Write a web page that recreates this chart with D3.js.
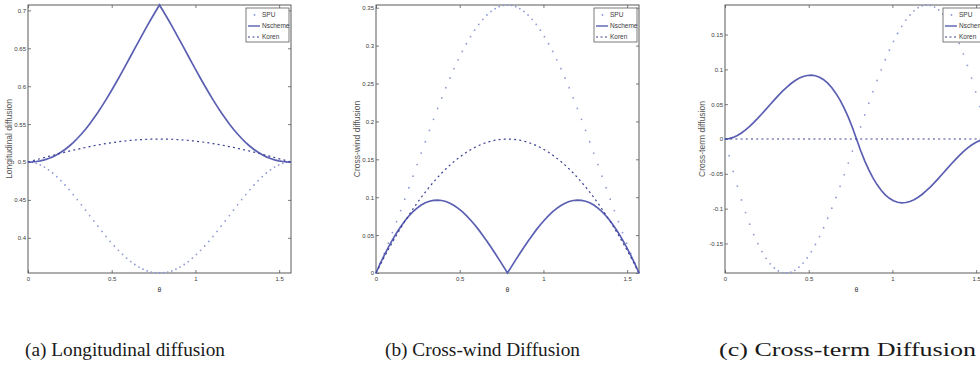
<!DOCTYPE html>
<html>
<head>
<meta charset="utf-8">
<script src="https://cdn.jsdelivr.net/npm/d3@7"></script>
<style>
  body { margin: 0; background: #fff; }
  svg { display: block; }
</style>
</head>
<body>
<svg id="fig" width="980" height="372"></svg>
<script>
// Flow angle samples (rad), 0 .. pi/2
const theta = [0, 0.0245, 0.0491, 0.0736, 0.0982, 0.1227, 0.1473, 0.1718, 0.1963, 0.2209,
  0.2454, 0.2700, 0.2945, 0.3191, 0.3436, 0.3682, 0.3927, 0.4172, 0.4418, 0.4663,
  0.4909, 0.5154, 0.5400, 0.5645, 0.5890, 0.6136, 0.6381, 0.6627, 0.6872, 0.7118,
  0.7363, 0.7609, 0.7854, 0.8099, 0.8345, 0.8590, 0.8836, 0.9081, 0.9327, 0.9572,
  0.9817, 1.0063, 1.0308, 1.0554, 1.0799, 1.1045, 1.1290, 1.1536, 1.1781, 1.2026,
  1.2272, 1.2517, 1.2763, 1.3008, 1.3254, 1.3499, 1.3744, 1.3990, 1.4235, 1.4481,
  1.4726, 1.4972, 1.5217, 1.5463, 1.5708];

// (a) longitudinal diffusion
const lonSPU = [0.5, 0.4996, 0.4983, 0.4961, 0.4933, 0.4897, 0.4855, 0.4807, 0.4754, 0.4697,
  0.4636, 0.4571, 0.4504, 0.4435, 0.4365, 0.4294, 0.4223, 0.4153, 0.4084, 0.4018,
  0.3953, 0.3892, 0.3835, 0.3781, 0.3732, 0.3687, 0.3648, 0.3614, 0.3586, 0.3564,
  0.3548, 0.3539, 0.3536, 0.3539, 0.3548, 0.3564, 0.3586, 0.3614, 0.3648, 0.3687,
  0.3732, 0.3781, 0.3835, 0.3892, 0.3953, 0.4018, 0.4084, 0.4153, 0.4223, 0.4294,
  0.4365, 0.4435, 0.4504, 0.4571, 0.4636, 0.4697, 0.4754, 0.4807, 0.4855, 0.4897,
  0.4933, 0.4961, 0.4983, 0.4996, 0.5];
const lonNscheme = [0.5, 0.5002, 0.5007, 0.5015, 0.5028, 0.5046, 0.5068, 0.5095, 0.5128, 0.5165,
  0.5208, 0.5257, 0.5310, 0.5369, 0.5433, 0.5502, 0.5576, 0.5654, 0.5737, 0.5823,
  0.5913, 0.6006, 0.6102, 0.6199, 0.6298, 0.6398, 0.6498, 0.6598, 0.6697, 0.6795,
  0.6890, 0.6982, 0.7071, 0.6982, 0.6890, 0.6795, 0.6697, 0.6598, 0.6498, 0.6398,
  0.6298, 0.6199, 0.6102, 0.6006, 0.5913, 0.5823, 0.5737, 0.5654, 0.5576, 0.5502,
  0.5433, 0.5369, 0.5310, 0.5257, 0.5208, 0.5165, 0.5128, 0.5095, 0.5068, 0.5046,
  0.5028, 0.5015, 0.5007, 0.5002, 0.5];
const lonKoren = [0.5, 0.5015, 0.5030, 0.5044, 0.5059, 0.5074, 0.5088, 0.5102, 0.5116, 0.5130,
  0.5143, 0.5156, 0.5168, 0.5180, 0.5192, 0.5203, 0.5214, 0.5225, 0.5234, 0.5243,
  0.5252, 0.5260, 0.5267, 0.5274, 0.5280, 0.5285, 0.5290, 0.5294, 0.5297, 0.5300,
  0.5302, 0.5303, 0.5303, 0.5303, 0.5302, 0.5300, 0.5297, 0.5294, 0.5290, 0.5285,
  0.5280, 0.5274, 0.5267, 0.5260, 0.5252, 0.5243, 0.5234, 0.5225, 0.5214, 0.5203,
  0.5192, 0.5180, 0.5168, 0.5156, 0.5143, 0.5130, 0.5116, 0.5102, 0.5088, 0.5074,
  0.5059, 0.5044, 0.5030, 0.5015, 0.5];

// (b) cross-wind diffusion
const cwSPU = [0, 0.0126, 0.0257, 0.0393, 0.0533, 0.0677, 0.0824, 0.0974, 0.1125, 0.1277,
  0.1430, 0.1582, 0.1732, 0.1881, 0.2028, 0.2171, 0.2310, 0.2444, 0.2573, 0.2696,
  0.2813, 0.2923, 0.3025, 0.3118, 0.3204, 0.3280, 0.3347, 0.3404, 0.3451, 0.3488,
  0.3514, 0.3530, 0.3536, 0.3530, 0.3514, 0.3488, 0.3451, 0.3404, 0.3347, 0.3280,
  0.3204, 0.3118, 0.3025, 0.2923, 0.2813, 0.2696, 0.2573, 0.2444, 0.2310, 0.2171,
  0.2028, 0.1881, 0.1732, 0.1582, 0.1430, 0.1277, 0.1125, 0.0974, 0.0824, 0.0677,
  0.0533, 0.0393, 0.0257, 0.0126, 0];
const cwNscheme = [0, 0.0120, 0.0233, 0.0339, 0.0438, 0.0529, 0.0611, 0.0686, 0.0752, 0.0809,
  0.0857, 0.0896, 0.0926, 0.0947, 0.0959, 0.0962, 0.0957, 0.0943, 0.0921, 0.0891,
  0.0853, 0.0809, 0.0758, 0.0700, 0.0637, 0.0569, 0.0496, 0.0420, 0.0340, 0.0257,
  0.0173, 0.0087, 0, 0.0087, 0.0173, 0.0257, 0.0340, 0.0420, 0.0496, 0.0569,
  0.0637, 0.0700, 0.0758, 0.0809, 0.0853, 0.0891, 0.0921, 0.0943, 0.0957, 0.0962,
  0.0959, 0.0947, 0.0926, 0.0896, 0.0857, 0.0809, 0.0752, 0.0686, 0.0611, 0.0529,
  0.0438, 0.0339, 0.0233, 0.0120, 0];
const cwKoren = [0, 0.0106, 0.0210, 0.0310, 0.0407, 0.0501, 0.0592, 0.0679, 0.0763, 0.0844,
  0.0922, 0.0997, 0.1068, 0.1136, 0.1200, 0.1261, 0.1319, 0.1373, 0.1424, 0.1471,
  0.1515, 0.1555, 0.1592, 0.1625, 0.1655, 0.1682, 0.1705, 0.1724, 0.1740, 0.1752,
  0.1761, 0.1766, 0.1768, 0.1766, 0.1761, 0.1752, 0.1740, 0.1724, 0.1705, 0.1682,
  0.1655, 0.1625, 0.1592, 0.1555, 0.1515, 0.1471, 0.1424, 0.1373, 0.1319, 0.1261,
  0.1200, 0.1136, 0.1068, 0.0997, 0.0922, 0.0844, 0.0763, 0.0679, 0.0592, 0.0501,
  0.0407, 0.0310, 0.0210, 0.0106, 0];

// (c) cross-term diffusion
const ctSPU = [0, -0.0239, -0.0465, -0.0678, -0.0875, -0.1057, -0.1223, -0.1372, -0.1503, -0.1617,
  -0.1714, -0.1792, -0.1852, -0.1894, -0.1918, -0.1924, -0.1913, -0.1886, -0.1841, -0.1782,
  -0.1707, -0.1618, -0.1515, -0.1401, -0.1274, -0.1138, -0.0993, -0.0840, -0.0680, -0.0515,
  -0.0345, -0.0173, 0, 0.0173, 0.0345, 0.0515, 0.0680, 0.0840, 0.0993, 0.1138,
  0.1274, 0.1401, 0.1515, 0.1618, 0.1707, 0.1782, 0.1841, 0.1886, 0.1913, 0.1924,
  0.1918, 0.1894, 0.1852, 0.1792, 0.1714, 0.1617, 0.1503, 0.1372, 0.1223, 0.1057,
  0.0875, 0.0678, 0.0465, 0.0239, 0];
const ctNscheme = [0, 0.0006, 0.0023, 0.0050, 0.0086, 0.0130, 0.0181, 0.0238, 0.0299, 0.0363,
  0.0429, 0.0496, 0.0562, 0.0626, 0.0686, 0.0742, 0.0793, 0.0836, 0.0871, 0.0897,
  0.0912, 0.0916, 0.0908, 0.0887, 0.0852, 0.0802, 0.0736, 0.0655, 0.0558, 0.0444,
  0.0313, 0.0165, 0, -0.0165, -0.0313, -0.0444, -0.0558, -0.0655, -0.0736, -0.0802,
  -0.0852, -0.0887, -0.0908, -0.0916, -0.0912, -0.0897, -0.0871, -0.0836, -0.0793, -0.0742,
  -0.0686, -0.0626, -0.0562, -0.0496, -0.0429, -0.0363, -0.0299, -0.0238, -0.0181, -0.0130,
  -0.0086, -0.0050, -0.0023, -0.0006, 0];
const ctKoren = [0, 0, 0, 0, 0, 0, 0, 0, 0, 0, 0, 0, 0, 0, 0, 0, 0, 0, 0, 0,
  0, 0, 0, 0, 0, 0, 0, 0, 0, 0, 0, 0, 0, 0, 0, 0, 0, 0, 0, 0,
  0, 0, 0, 0, 0, 0, 0, 0, 0, 0, 0, 0, 0, 0, 0, 0, 0, 0, 0, 0,
  0, 0, 0, 0, 0];

// Tick values and text
const xTicks = [0, 0.5, 1, 1.5];
const lonTicks = [0.4, 0.45, 0.5, 0.55, 0.6, 0.65, 0.7];
const cwTicks = [0, 0.05, 0.1, 0.15, 0.2, 0.25, 0.3, 0.35];
const ctTicks = [-0.15, -0.1, -0.05, 0, 0.05, 0.1, 0.15];
const seriesNames = ["SPU", "Nscheme", "Koren"];
const yLabels = ["Longitudinal diffusion", "Cross-wind diffusion", "Cross-term diffusion"];
const captions = ["(a) Longitudinal diffusion", "(b) Cross-wind Diffusion", "(c) Cross-term Diffusion"];
const xLabel = "\u03b8";

const panels = [
  { left: 28,  series: [lonSPU, lonNscheme, lonKoren], ticks: lonTicks, ylabel: yLabels[0], caption: captions[0], capX: 25,  capLen: 200, ylabGap: 16 },
  { left: 376, series: [cwSPU, cwNscheme, cwKoren],    ticks: cwTicks,  ylabel: yLabels[1], caption: captions[1], capX: 385, capLen: 195, ylabGap: 16 },
  { left: 725, series: [ctSPU, ctNscheme, ctKoren],    ticks: ctTicks,  ylabel: yLabels[2], caption: captions[2], capX: 719, capLen: 257, ylabGap: 20 }
];

const W = 263, H = 268, TOP = 5;
const colSPU = "#8f9bd6", colN = "#5a5fb2", colK = "#3b4196", colAxis = "#5a5a5a", colText = "#3a3a3a";
const sans = "'Liberation Sans', Arial, sans-serif";

const svg = d3.select("#fig");
svg.append("rect").attr("width", 980).attr("height", 372).attr("fill", "#fff");

panels.forEach(p => {
  const g = svg.append("g").attr("transform", `translate(${p.left},${TOP})`);
  const x = d3.scaleLinear().domain([0, theta[theta.length - 1]]).range([0, W]);
  const y = d3.scaleLinear().domain(d3.extent(p.series.flat())).range([H, 0]);

  // tick marks and labels, inward, mirrored on the top and right
  const styleAxis = sel => {
    sel.select(".domain").remove();
    sel.selectAll("line").attr("stroke", colAxis).attr("stroke-width", 0.8);
    sel.selectAll("text").attr("fill", colText).style("font-family", sans).style("font-size", "6px");
  };
  g.append("g").attr("transform", `translate(0,${H})`)
    .call(d3.axisBottom(x).tickValues(xTicks).tickSizeInner(-3).tickSizeOuter(0).tickPadding(4).tickFormat(d => String(d)))
    .call(styleAxis);
  g.append("g")
    .call(d3.axisTop(x).tickValues(xTicks).tickSizeInner(-3).tickSizeOuter(0).tickFormat(""))
    .call(styleAxis);
  g.append("g")
    .call(d3.axisLeft(y).tickValues(p.ticks).tickSizeInner(-3).tickSizeOuter(0).tickPadding(2).tickFormat(d => String(d)))
    .call(styleAxis);
  g.append("g").attr("transform", `translate(${W},0)`)
    .call(d3.axisRight(y).tickValues(p.ticks).tickSizeInner(-3).tickSizeOuter(0).tickFormat(""))
    .call(styleAxis);

  // axes box
  g.append("rect").attr("width", W).attr("height", H)
    .attr("fill", "none").attr("stroke", colAxis).attr("stroke-width", 1);

  const pts = arr => arr.map((v, i) => [theta[i], v]);
  const line = d3.line().x(d => x(d[0])).y(d => y(d[1]));

  // SPU: point markers
  g.append("g").selectAll("circle").data(pts(p.series[0])).join("circle")
    .attr("cx", d => x(d[0])).attr("cy", d => y(d[1])).attr("r", 0.9)
    .attr("fill", colSPU);
  // Nscheme: solid line
  g.append("path").datum(pts(p.series[1])).attr("d", line)
    .attr("fill", "none").attr("stroke", colN).attr("stroke-width", 1.7);
  // Koren: dashed line
  g.append("path").datum(pts(p.series[2])).attr("d", line)
    .attr("fill", "none").attr("stroke", colK).attr("stroke-width", 1.2)
    .attr("stroke-dasharray", "2,3.2");

  // axis titles
  g.append("text").attr("x", W / 2).attr("y", H + 19).attr("text-anchor", "middle")
    .attr("fill", colText).style("font-family", sans).style("font-size", "7px").text(xLabel);
  g.append("text").attr("transform", `translate(${-p.ylabGap},${H / 2}) rotate(-90)`)
    .attr("text-anchor", "middle").attr("fill", "#555")
    .style("font-family", sans).style("font-size", "8.5px").text(p.ylabel);

  // legend
  const lg = g.append("g").attr("transform", `translate(${W - 45},3)`);
  lg.append("rect").attr("width", 43).attr("height", 34)
    .attr("fill", "#fff").attr("stroke", colAxis).attr("stroke-width", 0.8);
  seriesNames.forEach((name, i) => {
    const ry = 7 + i * 11;
    if (i === 0) {
      lg.append("circle").attr("cx", 8.5).attr("cy", ry).attr("r", 0.9).attr("fill", colSPU);
    } else {
      lg.append("line").attr("x1", 2).attr("x2", 14).attr("y1", ry).attr("y2", ry)
        .attr("stroke", i === 1 ? colN : colK).attr("stroke-width", i === 1 ? 1.4 : 1.1)
        .attr("stroke-dasharray", i === 1 ? null : "2,2.5");
    }
    lg.append("text").attr("x", 16).attr("y", ry).attr("dy", "0.35em")
      .attr("fill", colText).style("font-family", sans).style("font-size", "6.5px").text(name);
  });

  // sub-figure caption
  svg.append("text").attr("x", p.capX).attr("y", 356)
    .attr("textLength", p.capLen).attr("lengthAdjust", "spacingAndGlyphs")
    .attr("fill", "#1a1a1a").style("font-family", "'Liberation Serif', 'Times New Roman', serif")
    .style("font-size", "19px").text(p.caption);
});
</script>
</body>
</html>
